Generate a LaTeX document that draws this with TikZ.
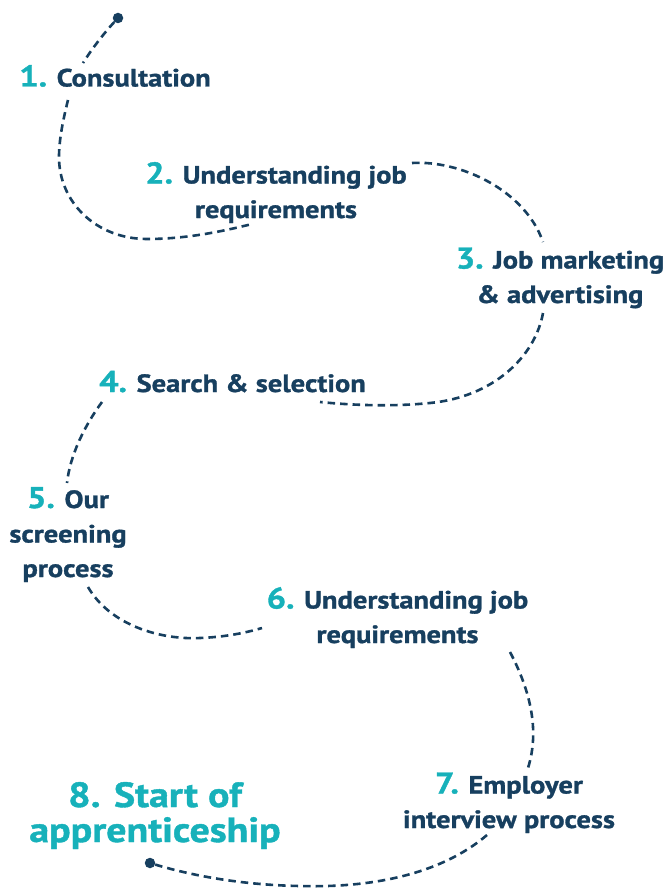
\documentclass[tikz,border=0pt]{standalone}
\usepackage{fontspec}
\setmainfont[FakeStretch=1.14, BoldFeatures={FakeBold=1.2}]{PT Sans}
\definecolor{navy}{HTML}{173F5F}
\definecolor{tealc}{HTML}{17B1BA}
\tikzset{
  route/.style={draw=navy, line width=2.6pt, dash pattern=on 7.5pt off 5pt},
  lbl/.style={anchor=base, align=center, inner sep=0pt, text=navy,
    font=\bfseries\fontsize{25}{34.5}\selectfont},
  biglbl/.style={anchor=base, align=center, inner sep=0pt, text=tealc,
    font=\bfseries\fontsize{35}{35}\selectfont},
  enddot/.style={circle, fill=navy, inner sep=0pt, minimum size=10.5pt},
}
\newcommand{\stepnum}[1]{{\color{tealc}\fontsize{30}{34.5}\selectfont #1}}
\begin{document}
\begin{tikzpicture}[x=1pt,y=-1pt]
\useasboundingbox (0,0) rectangle (667,888);

% labels (anchored at the baseline of their last line)
\node[lbl] (n1) at (115,86.5) {\stepnum{1.} Consultation};
\node[lbl] (n2) at (276,218) {\stepnum{2.} Understanding job\\requirements};
\node[lbl] (n3) at (560,303) {\stepnum{3.} Job marketing\\\& advertising};
\node[lbl] (n4) at (232.5,392) {\stepnum{4.} Search \& selection};
\node[lbl] (n5) at (68,577) {\stepnum{5.} Our\\screening\\process};
\node[lbl] (n6) at (397.5,643) {\stepnum{6.} Understanding job\\requirements};
\node[lbl] (n7) at (509,828) {\stepnum{7.} Employer\\interview process};
\node[biglbl] (n8) at (155,842) {8. Start of\\apprenticeship};

% end dots
\node[enddot] (start) at (118,18) {};
\node[enddot] (finish) at (150,863) {};

% segment end points
\coordinate (a1) at (83,63);
\coordinate (b0) at (68,100);
\coordinate (b1) at (252,224);
\coordinate (c0) at (412,163);
\coordinate (c1) at (543,242);
\coordinate (d0) at (543,313);
\coordinate (d1) at (320,402);
\coordinate (e0) at (102,402);
\coordinate (e1) at (67,483);
\coordinate (f0) at (88,587);
\coordinate (f1) at (262,628);
\coordinate (g0) at (510,652);
\coordinate (g1) at (528,768);
\coordinate (h0) at (487,835);

% dashed route
\draw[route] (start) .. controls (106,31) and (93,47) .. (a1);
\draw[route] (b0) .. controls (63,120) and (59,140) .. (59,157)
  .. controls (59,203) and (97,239) .. (147,239)
  .. controls (185,239) and (220,232) .. (b1);
\draw[route] (c0) .. controls (460,160) and (525,190) .. (c1);
\draw[route] (d0) .. controls (535,357) and (493,397) .. (430,403)
  .. controls (390,407) and (350,405) .. (d1);
\draw[route] (e0) .. controls (85,425) and (70,455) .. (e1);
\draw[route] (f0) .. controls (110,625) and (160,640) .. (200,638)
  .. controls (225,637) and (245,633) .. (f1);
\draw[route] (g0) .. controls (530,690) and (540,730) .. (g1);
\draw[route] (h0) .. controls (440,875) and (370,888) .. (300,886)
  .. controls (240,885) and (190,875) .. (finish);
\end{tikzpicture}
\end{document}
